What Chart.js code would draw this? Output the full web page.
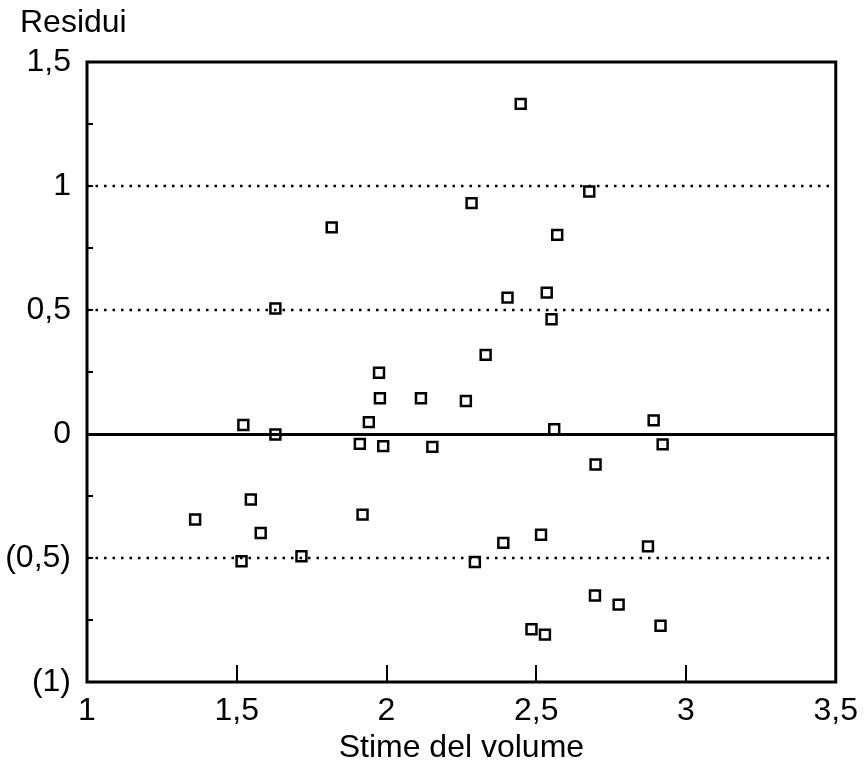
<!DOCTYPE html>
<html>
<head>
<meta charset="utf-8">
<script src="https://cdn.jsdelivr.net/npm/chart.js@4"></script>
<style>
  html, body { margin: 0; padding: 0; background: #fff; }
  #wrap { width: 868px; height: 764px; position: relative; }
</style>
</head>
<body>
<div id="wrap"><canvas id="residui"></canvas></div>
<script>
// stime del volume (x) e residui (y)
var stime = [1.361, 1.516, 1.522, 1.547, 1.580, 1.629, 1.629, 1.716, 1.817, 1.911,
             1.920, 1.941, 1.975, 1.978, 1.989, 2.115, 2.153, 2.265, 2.284, 2.295,
             2.331, 2.390, 2.404, 2.448, 2.484, 2.516, 2.529, 2.535, 2.551, 2.560,
             2.570, 2.677, 2.696, 2.698, 2.775, 2.873, 2.892, 2.915, 2.922];
var residui = [-0.345, -0.513, 0.036, -0.264, -0.399, 0.506, -0.002, -0.493, 0.833, -0.040,
               -0.325, 0.048, 0.247, 0.144, -0.049, 0.144, -0.052, 0.133, 0.931, -0.516,
               0.319, -0.439, 0.550, 1.331, -0.787, -0.406, -0.809, 0.570, 0.463, 0.019,
               0.803, 0.978, -0.651, -0.123, -0.688, -0.453, 0.055, -0.773, -0.042];

var xTicks = [1, 1.5, 2, 2.5, 3, 3.5];
var xTickLabels = ['1', '1,5', '2', '2,5', '3', '3,5'];
var yTicks = [-1, -0.5, 0, 0.5, 1, 1.5];
var yTickLabels = ['(1)', '(0,5)', '0', '0,5', '1', '1,5'];
var lineePunteggiate = [1, 0.5, -0.5];
var lineaZero = 0;
var yTacche = [1.25, 1, 0.75, 0.5, 0.25, -0.25, -0.5, -0.75];
var xTacche = [1.5, 2, 2.5, 3];

Chart.defaults.font.family = "'Liberation Sans', Arial, sans-serif";
Chart.defaults.font.size = 32;
Chart.defaults.color = '#000';

var punti = stime.map(function (x, i) { return { x: x, y: residui[i] }; });

// cornice, linee di riferimento e tacche interne
var cornice = {
    id: 'cornice',
    beforeDatasetsDraw: function (chart) {
        var ctx = chart.ctx, a = chart.chartArea;
        var xs = chart.scales.x, ys = chart.scales.y;
        ctx.save();
        ctx.strokeStyle = '#000';

        ctx.lineWidth = 2.5;
        ctx.setLineDash([2.5, 6]);
        lineePunteggiate.forEach(function (v) {
            var y = Math.round(ys.getPixelForValue(v));
            ctx.beginPath(); ctx.moveTo(a.left, y); ctx.lineTo(a.right, y); ctx.stroke();
        });
        ctx.setLineDash([]);

        ctx.lineWidth = 3;
        var y0 = Math.round(ys.getPixelForValue(lineaZero)) + 0.5;
        ctx.beginPath(); ctx.moveTo(a.left, y0); ctx.lineTo(a.right, y0); ctx.stroke();

        ctx.lineWidth = 2;
        yTacche.forEach(function (v) {
            var y = Math.round(ys.getPixelForValue(v));
            ctx.beginPath(); ctx.moveTo(a.left, y); ctx.lineTo(a.left + 6, y); ctx.stroke();
        });
        xTacche.forEach(function (v) {
            var x = Math.round(xs.getPixelForValue(v));
            ctx.beginPath(); ctx.moveTo(x, a.bottom); ctx.lineTo(x, a.bottom - 17); ctx.stroke();
        });

        ctx.lineWidth = 3;
        ctx.strokeRect(a.left, a.top, a.right - a.left, a.bottom - a.top);
        ctx.restore();
    },
    afterDraw: function (chart) {
        var ctx = chart.ctx;
        ctx.save();
        ctx.fillStyle = '#000';
        ctx.font = "32px 'Liberation Sans', Arial, sans-serif";
        ctx.textBaseline = 'middle';
        ctx.textAlign = 'left';
        ctx.fillText('Residui', 20, 23);
        ctx.restore();
    }
};

var ctx = document.getElementById('residui').getContext('2d');
var grafico = new Chart(ctx, {
    type: 'scatter',
    data: {
        datasets: [{
            label: 'Residui',
            data: punti,
            pointStyle: 'rect',
            pointRadius: 7,
            pointBorderWidth: 2.5,
            borderColor: '#000',
            backgroundColor: 'rgba(0,0,0,0)'
        }]
    },
    options: {
        responsive: true,
        maintainAspectRatio: false,
        animation: false,
        layout: { padding: { top: 62, right: 21, left: 0, bottom: 0 } },
        plugins: {
            legend: { display: false },
            tooltip: { enabled: false }
        },
        scales: {
            x: {
                type: 'linear',
                min: 1,
                max: 3.5,
                grid: { display: false, drawTicks: false },
                border: { display: false },
                afterBuildTicks: function (s) { s.ticks = xTicks.map(function (v) { return { value: v }; }); },
                ticks: {
                    padding: 10,
                    maxRotation: 0,
                    callback: function (v) { return xTickLabels[xTicks.indexOf(v)]; }
                },
                title: {
                    display: true,
                    text: 'Stime del volume',
                    font: { size: 32, lineHeight: 1 },
                    padding: 0
                },
                afterFit: function (s) { s.height = 82; }
            },
            y: {
                type: 'linear',
                min: -1,
                max: 1.5,
                grid: { display: false, drawTicks: false },
                border: { display: false },
                afterBuildTicks: function (s) { s.ticks = yTicks.map(function (v) { return { value: v }; }); },
                ticks: {
                    padding: 16,
                    callback: function (v) { return yTickLabels[yTicks.indexOf(v)]; }
                },
                afterFit: function (s) { s.width = 87; }
            }
        }
    },
    plugins: [cornice]
});
</script>
</body>
</html>
